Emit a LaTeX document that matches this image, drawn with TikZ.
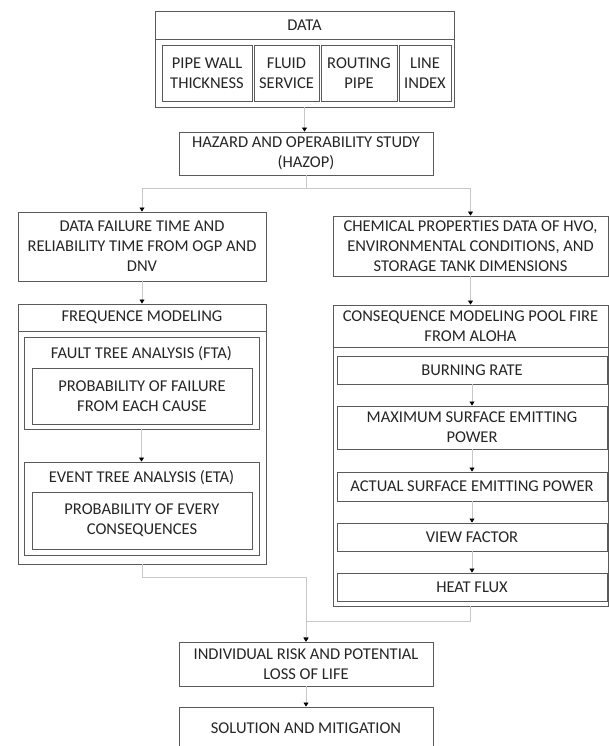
\documentclass[tikz,border=0pt]{standalone}
\usepackage{fontspec}
\setmainfont{Carlito}
\usetikzlibrary{arrows.meta}
\definecolor{boxgray}{RGB}{90,90,90}
\definecolor{linkgray}{RGB}{200,200,200}

\begin{document}
\begin{tikzpicture}[x=1pt, y=-1pt,
    box/.style={draw=boxgray, line width=0.9pt, inner sep=0pt, align=center, text=black!85,
        font=\fontsize{16.5}{20}\selectfont},
    title/.style={inner sep=0pt, align=center, text=black!85, font=\fontsize{16.5}{20}\selectfont},
    link/.style={draw=linkgray, line width=0.8pt},
    flow/.style={link, -{Triangle[black, length=4pt, width=5pt]}}]
    \clip (0,0) rectangle (609,746);
    \fill[white] (0,0) rectangle (609,746);
    %%% data block
    \node[box, minimum width=299, minimum height=96] (data) at (304.5, 59) {};
    \node[title] (datat) at (304.5, 25) {DATA};
    \draw[boxgray, line width=0.9pt] (data.west |- 0,39) -- (data.east |- 0,39);
    \node[box, minimum width=90, minimum height=56] (pipe) at (207, 73) {PIPE WALL\\THICKNESS};
    \node[box, minimum width=65, minimum height=56] (fluid) at (286.5, 73) {FLUID\\SERVICE};
    \node[box, minimum width=76, minimum height=56] (routing) at (359, 73) {ROUTING\\PIPE};
    \node[box, minimum width=52, minimum height=56] (lineidx) at (425, 73) {LINE\\INDEX};
    \node[box, minimum width=254, minimum height=43] (hazop) at (306, 153.5) {HAZARD AND OPERABILITY STUDY\\(HAZOP)};
    %%% left column
    \node[box, minimum width=248, minimum height=69] (failure) at (142, 246.5)
        {DATA FAILURE TIME AND\\RELIABILITY TIME FROM OGP AND\\DNV};
    \node[box, minimum width=248, minimum height=260] (freq) at (142, 434) {};
    \node[title] (freqt) at (142, 317) {FREQUENCE MODELING};
    \draw[boxgray, line width=0.9pt] (freq.west |- 0,331) -- (freq.east |- 0,331);
    \node[box, minimum width=235, minimum height=92] (fta) at (141.5, 383) {};
    \node[title] (ftat) at (141.5, 354) {FAULT TREE ANALYSIS (FTA)};
    \node[box, minimum width=220, minimum height=56] (ftain) at (142, 396) {PROBABILITY OF FAILURE\\FROM EACH CAUSE};
    \node[box, minimum width=235, minimum height=93] (eta) at (141.5, 508.5) {};
    \node[title] (etat) at (141.5, 478) {EVENT TREE ANALYSIS (ETA)};
    \node[box, minimum width=220, minimum height=57] (etain) at (142, 520.5) {PROBABILITY OF EVERY\\CONSEQUENCES};
    %%% right column
    \node[box, minimum width=275, minimum height=60] (chem) at (470.5, 246)
        {CHEMICAL PROPERTIES DATA OF HVO,\\ENVIRONMENTAL CONDITIONS, AND\\STORAGE TANK DIMENSIONS};
    \node[box, minimum width=275, minimum height=301] (conseq) at (470.5, 455.5) {};
    \node[title] (conseqt) at (470.5, 326) {CONSEQUENCE MODELING POOL FIRE\\FROM ALOHA};
    \draw[boxgray, line width=0.9pt] (conseq.west |- 0,347) -- (conseq.east |- 0,347);
    \node[box, minimum width=270, minimum height=28] (burning) at (472, 370) {BURNING RATE};
    \node[box, minimum width=270, minimum height=43] (maxsep) at (472, 427.5) {MAXIMUM SURFACE EMITTING\\POWER};
    \node[box, minimum width=270, minimum height=29] (actsep) at (472, 486.5) {ACTUAL SURFACE EMITTING POWER};
    \node[box, minimum width=270, minimum height=28] (view) at (472, 537) {VIEW FACTOR};
    \node[box, minimum width=270, minimum height=28] (heat) at (472, 587) {HEAT FLUX};
    %%% bottom
    \node[box, minimum width=254, minimum height=44] (risk) at (306, 664) {INDIVIDUAL RISK AND POTENTIAL\\LOSS OF LIFE};
    \node[box, minimum width=254, minimum height=43] (solution) at (306, 728.5) {SOLUTION AND MITIGATION};
    %%% connectors
    \draw[flow] (data.south) -- (data.south |- hazop.north);
    \draw[flow] (hazop.south) -- ++(0,13) -| (failure.north);
    \draw[flow] (hazop.south) -- ++(0,13) -| (chem.north);
    \draw[flow] (failure.south) -- (freq.north);
    \draw[flow] (fta.south) -- (fta.south |- eta.north);
    \draw[flow] (chem.south) -- (conseq.north);
    \draw[flow] (burning.south) -- (maxsep.north);
    \draw[flow] (maxsep.south) -- (actsep.north);
    \draw[flow] (actsep.south) -- (view.north);
    \draw[flow] (view.south) -- (heat.north);
    \draw[flow] (freq.south) -- ++(0,13) -| (risk.north);
    \draw[flow] (conseq.south |- heat.south) ++(0,5) -- ++(0,15) -| (risk.north);
    \draw[flow] (risk.south) -- (solution.north);
\end{tikzpicture}
\end{document}
